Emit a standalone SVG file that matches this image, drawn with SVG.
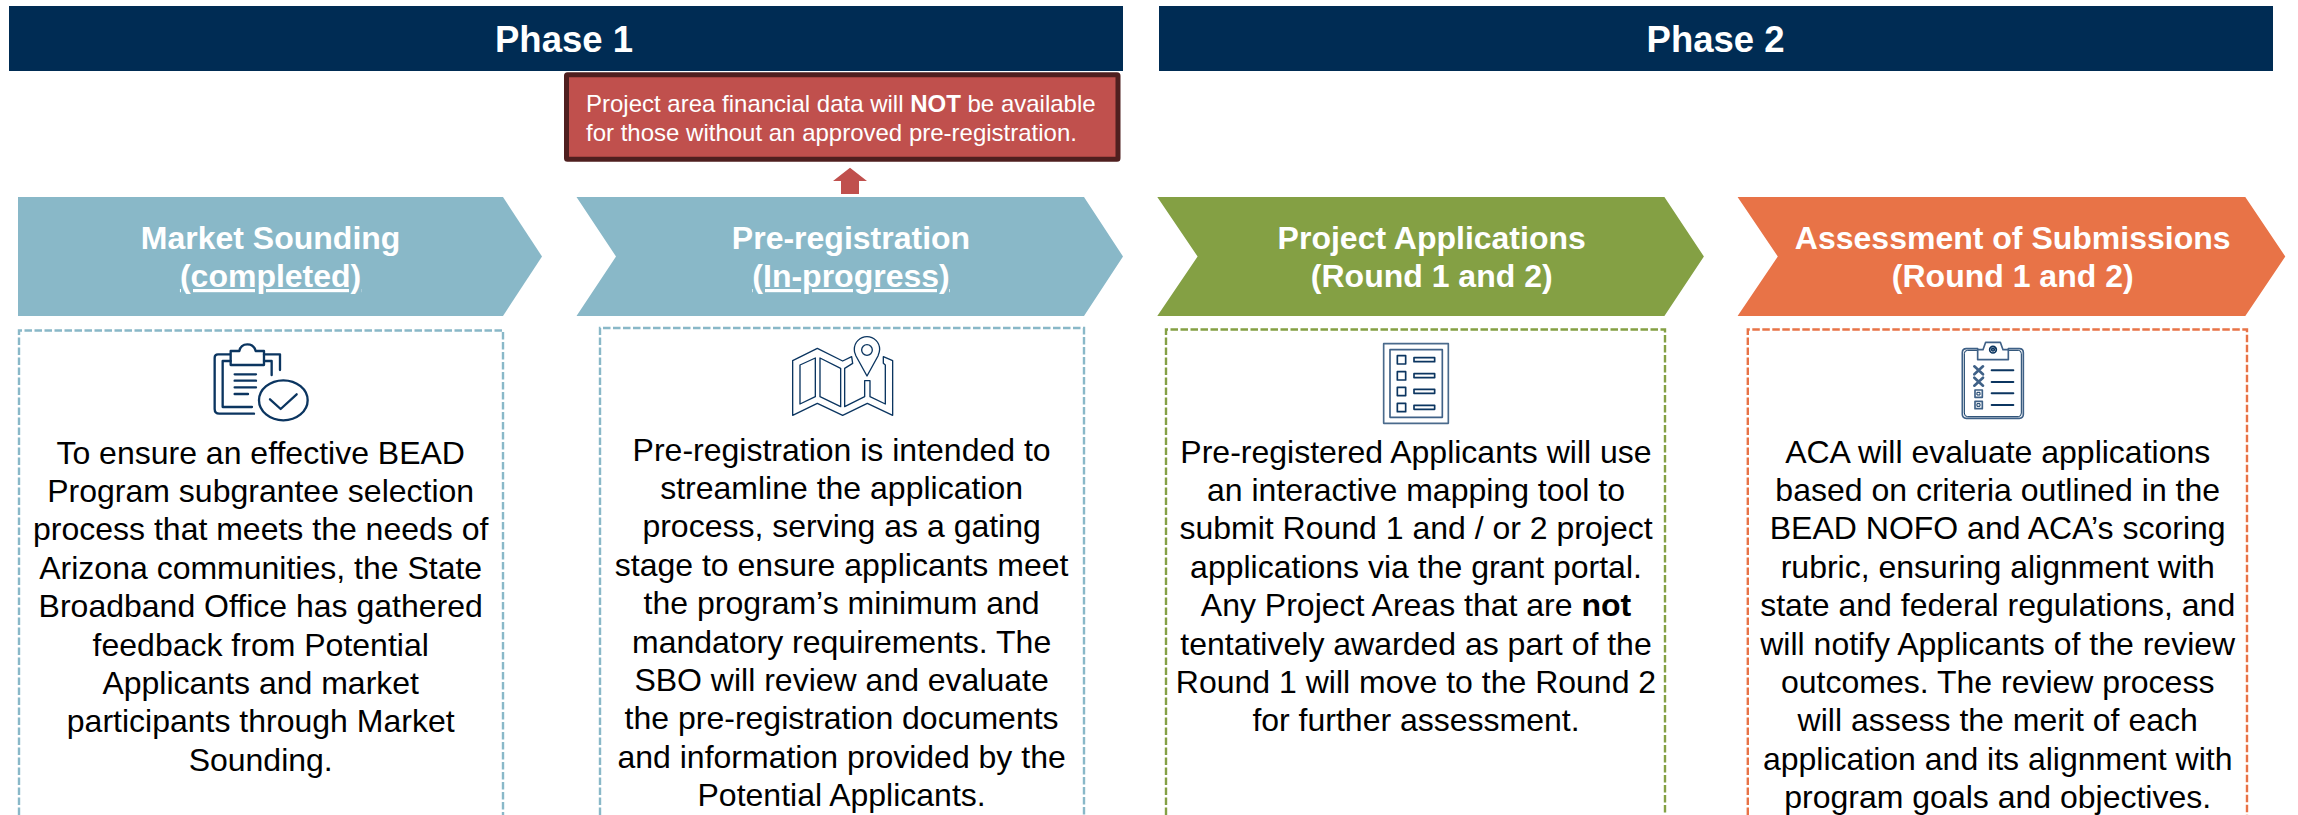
<svg xmlns="http://www.w3.org/2000/svg" width="2298" height="815" viewBox="0 0 2298 815">
<style>
text{font-family:"Liberation Sans",Arial,sans-serif}
.phase{fill:#002c54}
.pt{font-size:36.500px;font-weight:bold;fill:#fff;text-anchor:middle}
.ht{font-size:32px;font-weight:bold;fill:#fff;text-anchor:middle}
.u{text-decoration:underline}
.bt{font-size:32px;fill:#000;text-anchor:middle}
.box{fill:#fff;stroke-width:2.4;stroke-dasharray:7.500 2.500}
.ic{fill:none;stroke:#0b3560;stroke-linejoin:round;stroke-linecap:round}
.nt{font-size:24px;fill:#fff}
.b{font-weight:bold}
</style>
<rect width="2298" height="815" fill="#fff"/>
<g id="phase1"><rect class="phase" x="9" y="6" width="1114" height="65"/><text class="pt" x="564" y="52">Phase 1</text></g>
<g id="phase2"><rect class="phase" x="1159" y="6" width="1114" height="65"/><text class="pt" x="1715.600" y="52">Phase 2</text></g>
<g id="note"><rect x="566.500" y="74.800" width="551.500" height="84.400" fill="#c0504d" stroke="#4f1f1f" stroke-width="5" rx="1"/>
<text class="nt" x="586" y="112">Project area financial data will <tspan class="b">NOT</tspan> be available</text>
<text class="nt" x="586" y="141">for those without an approved pre-registration.</text></g>
<g id="connectors"><path d="M850 167.700L867 181H859V194H841V181H833Z" fill="#c0504d"/></g>
<g id="market-sounding">
<path d="M18 197H503L542 256.500L503 316H18Z" fill="#89b8c8"/>
<text class="ht" x="270.600" y="248.500">Market Sounding</text><text class="ht u" x="270.600" y="287">(completed)</text>
<path class="box" stroke="#89b8c8" d="M19 815V330.500H503V815"/>
<g class="ic" transform="translate(190 335) scale(.3333)" stroke-width="7">
<path d="M120 58H84Q74 58 74 68V222Q74 236 88 236H192M222 58H270V105M122 78H98V216H186M222 78H245V120"/>
<path d="M122 48H148Q152 28 172 28Q192 28 197 48H222V90H122Z"/>
<path d="M134 118H198M134 137H198M134 157H198M134 177H174"/>
<ellipse cx="280" cy="196" rx="73" ry="60"/><path d="M240 193L272 222L320 178"/></g>
<text class="bt"><tspan x="260.700" y="463.500">To ensure an effective BEAD</tspan><tspan x="260.700" dy="38.400">Program subgrantee selection</tspan><tspan x="260.700" dy="38.400">process that meets the needs of</tspan><tspan x="260.700" dy="38.400">Arizona communities, the State</tspan><tspan x="260.700" dy="38.400">Broadband Office has gathered</tspan><tspan x="260.700" dy="38.400">feedback from Potential</tspan><tspan x="260.700" dy="38.400">Applicants and market</tspan><tspan x="260.700" dy="38.400">participants through Market</tspan><tspan x="260.700" dy="38.400">Sounding.</tspan></text>
</g>
<g id="pre-registration">
<path d="M576.500 197H1084L1123 256.500L1084 316H576.500L616 256.500Z" fill="#89b8c8"/>
<text class="ht" x="851" y="248.500">Pre-registration</text><text class="ht u" x="851" y="287">(In-progress)</text>
<path class="box" stroke="#89b8c8" d="M600 815V328H1084V815"/>
<g class="ic" transform="translate(780 330) scale(.3333)" stroke-width="4">
<path d="M215 80L188 93L112 55L38 92V256L112 220L188 256L262 220L338 256V92L310 80V100L316 105V222L270 200V152H254V200L194 230V115L218 100Z"/>
<path d="M106 84L60 105V222L106 200ZM120 84L182 115V230L120 200Z"/>
<circle cx="261" cy="60" r="16"/><path d="M261 138L228 78Q222 66 223 58A38 38 0 1 1 299 58Q299 66 294 78Z"/></g>
<text class="bt"><tspan x="841.600" y="460.500">Pre-registration is intended to</tspan><tspan x="841.600" dy="38.400">streamline the application</tspan><tspan x="841.600" dy="38.400">process, serving as a gating</tspan><tspan x="841.600" dy="38.400">stage to ensure applicants meet</tspan><tspan x="841.600" dy="38.400">the program’s minimum and</tspan><tspan x="841.600" dy="38.400">mandatory requirements. The</tspan><tspan x="841.600" dy="38.400">SBO will review and evaluate</tspan><tspan x="841.600" dy="38.400">the pre-registration documents</tspan><tspan x="841.600" dy="38.400">and information provided by the</tspan><tspan x="841.600" dy="38.400">Potential Applicants.</tspan></text>
</g>
<g id="project-applications">
<path d="M1157.300 197H1664.400L1703.900 256.500L1664.400 316H1157.300L1197.600 256.500Z" fill="#84a044"/>
<text class="ht" x="1431.700" y="248.500">Project Applications</text><text class="ht" x="1431.700" y="287">(Round 1 and 2)</text>
<path class="box" stroke="#84a044" d="M1166 815V329.500H1665V815"/>
<g class="ic" transform="translate(1370 335) scale(.3333)" stroke-width="5">
<rect x="41" y="26" width="194" height="239" stroke="#4a6a8c"/><rect x="60" y="44" width="157" height="203" stroke="#3f6187"/>
<rect x="82" y="62" width="25" height="25"/><rect x="82" y="110" width="25" height="25"/><rect x="82" y="157" width="25" height="25"/><rect x="82" y="205" width="25" height="25"/>
<rect x="132" y="68" width="62" height="12"/><rect x="132" y="116" width="62" height="12"/><rect x="132" y="163" width="62" height="12"/><rect x="132" y="211" width="62" height="12"/></g>
<text class="bt"><tspan x="1416" y="462.500">Pre-registered Applicants will use</tspan><tspan x="1416" dy="38.400">an interactive mapping tool to</tspan><tspan x="1416" dy="38.400">submit Round 1 and / or 2 project</tspan><tspan x="1416" dy="38.400">applications via the grant portal.</tspan><tspan x="1416" dy="38.400">Any Project Areas that are <tspan class="b">not</tspan></tspan><tspan x="1416" dy="38.400">tentatively awarded as part of the</tspan><tspan x="1416" dy="38.400">Round 1 will move to the Round 2</tspan><tspan x="1416" dy="38.400">for further assessment.</tspan></text>
</g>
<g id="assessment">
<path d="M1737.600 197H2245.300L2285.300 256.500L2245.300 316H1737.600L1777.800 256.500Z" fill="#e87347"/>
<text class="ht" x="2012.700" y="248.500">Assessment of Submissions</text><text class="ht" x="2012.700" y="287">(Round 1 and 2)</text>
<path class="box" stroke="#e87347" d="M1747.800 815V329.500H2247V815"/>
<g class="ic" transform="translate(1955 335) scale(.3333)" stroke-width="5">
<path d="M68 41H34Q22 41 22 53V238Q22 250 34 250H193Q205 250 205 238V53Q205 41 193 41H160" stroke="#3f6187"/><path d="M68 46H38Q28 46 28 56V234Q28 245 38 245H190Q199 245 199 234V56Q199 46 190 46H160" stroke-width="3"/>
<path d="M68 74V44H84L92 22H136L144 44H160V74Z" stroke="#3f6187"/><circle cx="114" cy="44" r="10"/><circle cx="114" cy="44" r="4"/>
<path d="M58 94L84 118M84 94L58 118M58 128L84 152M84 128L58 152" stroke-width="8" stroke="#3f6187"/>
<rect x="60" y="165" width="22" height="22" stroke="#3f6187"/><rect x="60" y="199" width="22" height="22" stroke="#3f6187"/><rect x="67" y="172" width="8" height="8" stroke-width="3"/><rect x="67" y="206" width="8" height="8" stroke-width="3"/>
<path d="M110 106H175M110 141H175M110 175H175M110 210H175" stroke-width="6"/></g>
<text class="bt"><tspan x="1997.700" y="462.500">ACA will evaluate applications</tspan><tspan x="1997.700" dy="38.400">based on criteria outlined in the</tspan><tspan x="1997.700" dy="38.400">BEAD NOFO and ACA’s scoring</tspan><tspan x="1997.700" dy="38.400">rubric, ensuring alignment with</tspan><tspan x="1997.700" dy="38.400">state and federal regulations, and</tspan><tspan x="1997.700" dy="38.400">will notify Applicants of the review</tspan><tspan x="1997.700" dy="38.400">outcomes. The review process</tspan><tspan x="1997.700" dy="38.400">will assess the merit of each</tspan><tspan x="1997.700" dy="38.400">application and its alignment with</tspan><tspan x="1997.700" dy="38.400">program goals and objectives.</tspan></text>
</g>
</svg>
